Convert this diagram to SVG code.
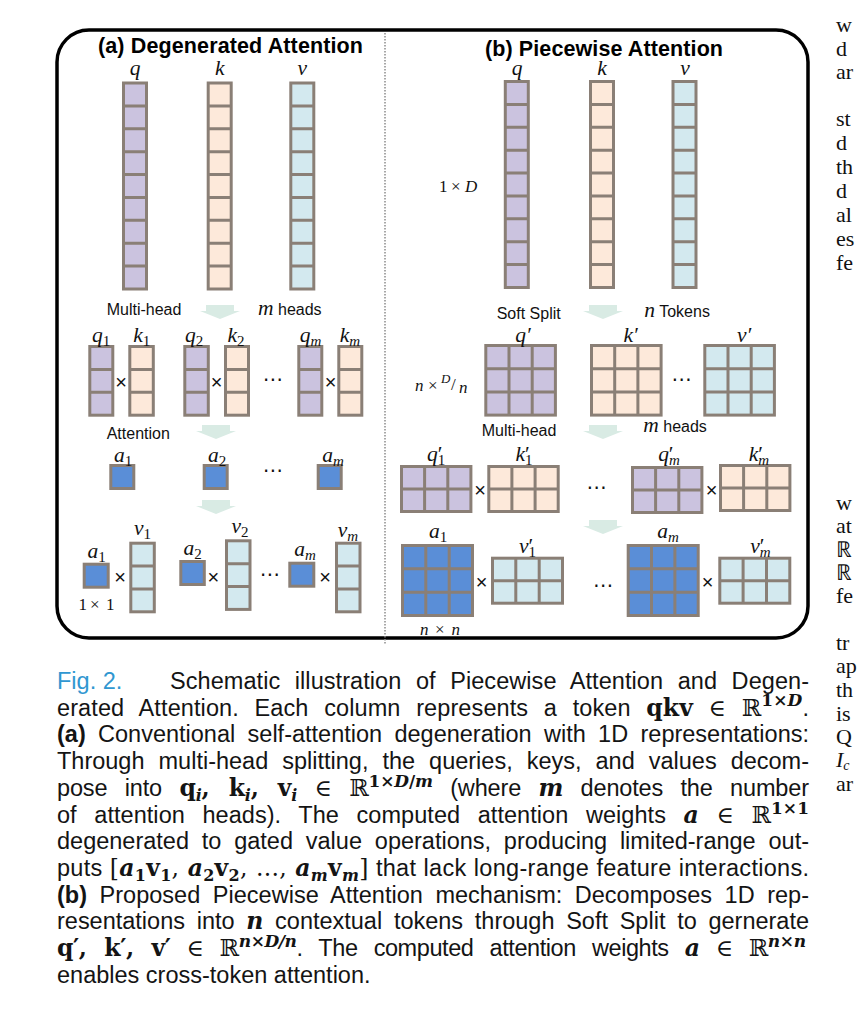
<svg xmlns="http://www.w3.org/2000/svg" width="861" height="1023" viewBox="0 0 861 1023">
<style>
.c{stroke:#8a7f76;stroke-width:3}
.d{stroke:#8a7f76;stroke-width:3;fill:none}
.q{fill:#cbc3df}
.k{fill:#fde9da}
.v{fill:#d3e9ef}
.a{fill:#5a8ed7}
.l{font-family:"Liberation Serif","Times New Roman",serif;font-style:italic;font-size:21.5px;text-anchor:middle;fill:#111}
.s{font-size:15px;font-style:normal}
.si{font-size:15px}
.sans{font-family:"Liberation Sans",Arial,sans-serif;font-size:16px;fill:#111}
.ti{font-family:"Liberation Sans",Arial,sans-serif;font-weight:bold;font-size:21.5px;fill:#000}
.x{font-family:"Liberation Sans",Arial,sans-serif;font-size:20px;text-anchor:middle;fill:#111}
.dots{font-family:"DejaVu Sans",sans-serif;font-size:20px;text-anchor:middle;fill:#111}
.tm{font-family:"Liberation Serif",serif;font-size:17px;fill:#111}
.it{font-style:italic}
.cap{font-family:"Liberation Sans",Arial,sans-serif;font-size:23.5px;fill:#141414}
.mb{font-family:"DejaVu Serif",serif;font-weight:bold}
.mi{font-family:"DejaVu Serif",serif;font-weight:bold;font-style:italic}
.mr{font-family:"DejaVu Serif",serif}
.rt{font-family:"Liberation Serif",serif;font-size:22px;fill:#111}
.arw{fill:#d9ebe4}
</style>
<defs>
<path id="arr" d="M-14,0 H14 V6 H20 L0,14 L-20,6 H-14 Z"/>
</defs>

<!-- frame and divider -->
<rect x="57" y="30" width="751" height="608" rx="32" fill="none" stroke="#000" stroke-width="3.5"/>
<line x1="385" y1="33" x2="385" y2="645" stroke="#8c8c8c" stroke-width="1.5" stroke-dasharray="1.5 1.5"/>

<text class="ti" x="98" y="53" textLength="265">(a) Degenerated Attention</text>
<text class="ti" x="485" y="56" textLength="238">(b) Piecewise Attention</text>

<!-- connectors (flow arrows) -->
<g id="connectors" class="arw">
<use href="#arr" x="220" y="305"/>
<use href="#arr" x="216" y="425"/>
<use href="#arr" x="216" y="500"/>
<use href="#arr" x="603" y="305"/>
<use href="#arr" x="603" y="425"/>
<use href="#arr" x="603" y="520"/>
</g>

<!-- ===== (a) left panel ===== -->
<g id="a-q">
<rect class="c q" x="123.5" y="83" width="23" height="206"/>
<path class="d" d="M123.5 105.9h23M123.5 128.8h23M123.5 151.7h23M123.5 174.6h23M123.5 197.4h23M123.5 220.3h23M123.5 243.2h23M123.5 266.1h23"/>
<text class="l" x="135" y="75">q</text>
</g>
<g id="a-k">
<rect class="c k" x="208.2" y="83" width="23" height="206"/>
<path class="d" d="M208.2 105.9h23M208.2 128.8h23M208.2 151.7h23M208.2 174.6h23M208.2 197.4h23M208.2 220.3h23M208.2 243.2h23M208.2 266.1h23"/>
<text class="l" x="219.7" y="75">k</text>
</g>
<g id="a-v">
<rect class="c v" x="290.8" y="83" width="23" height="206"/>
<path class="d" d="M290.8 105.9h23M290.8 128.8h23M290.8 151.7h23M290.8 174.6h23M290.8 197.4h23M290.8 220.3h23M290.8 243.2h23M290.8 266.1h23"/>
<text class="l" x="302.3" y="75">v</text>
</g>

<text class="sans" x="106.7" y="315">Multi-head</text>
<text class="sans" x="258" y="315"><tspan class="l" style="text-anchor:start">m</tspan> heads</text>

<g id="a-q1">
<rect class="c q" x="89.8" y="346.5" width="23" height="68.7"/>
<path class="d" d="M89.8 369.4h23M89.8 392.3h23"/>
<text class="l" x="101" y="341.7">q<tspan class="s" dy="4">1</tspan></text>
</g>
<g id="a-k1">
<rect class="c k" x="129.8" y="346.5" width="23.5" height="68.7"/>
<path class="d" d="M129.8 369.4h23.5M129.8 392.3h23.5"/>
<text class="l" x="141.7" y="341.7">k<tspan class="s" dy="4">1</tspan></text>
</g>
<g id="a-q2">
<rect class="c q" x="184.8" y="346.5" width="23.5" height="68.7"/>
<path class="d" d="M184.8 369.4h23.5M184.8 392.3h23.5"/>
<text class="l" x="194" y="341.7">q<tspan class="s" dy="4">2</tspan></text>
</g>
<g id="a-k2">
<rect class="c k" x="225.5" y="346.5" width="23" height="68.7"/>
<path class="d" d="M225.5 369.4h23M225.5 392.3h23"/>
<text class="l" x="236" y="341.7">k<tspan class="s" dy="4">2</tspan></text>
</g>
<g id="a-qm">
<rect class="c q" x="298.8" y="346.5" width="23" height="68.7"/>
<path class="d" d="M298.8 369.4h23M298.8 392.3h23"/>
<text class="l" x="310.5" y="341.7">q<tspan class="si" dy="4">m</tspan></text>
</g>
<g id="a-km">
<rect class="c k" x="338.8" y="346.5" width="23" height="68.7"/>
<path class="d" d="M338.8 369.4h23M338.8 392.3h23"/>
<text class="l" x="350" y="341.7">k<tspan class="si" dy="4">m</tspan></text>
</g>
<text class="x" x="121" y="389">×</text>
<text class="x" x="216.7" y="389">×</text>
<text class="x" x="330.7" y="389">×</text>
<text class="dots" x="273" y="386">⋯</text>

<text class="sans" x="106.7" y="439">Attention</text>

<g id="a-a1">
<rect class="c a" x="110.8" y="465.5" width="23" height="23"/>
<text class="l" x="123" y="461.7">a<tspan class="s" dy="4">1</tspan></text>
</g>
<g id="a-a2">
<rect class="c a" x="204.2" y="465.5" width="23" height="23"/>
<text class="l" x="217" y="461.7">a<tspan class="s" dy="4">2</tspan></text>
</g>
<g id="a-am">
<rect class="c a" x="318.2" y="465.5" width="23" height="23"/>
<text class="l" x="333" y="461.7">a<tspan class="si" dy="4">m</tspan></text>
</g>
<text class="dots" x="273" y="477">⋯</text>

<g id="a-av1">
<rect class="c a" x="84.2" y="564.2" width="24" height="23"/>
<text class="l" x="96.7" y="558">a<tspan class="s" dy="4">1</tspan></text>
<rect class="c v" x="130.8" y="543.2" width="23.5" height="68.6"/>
<path class="d" d="M130.8 566.1h23.5M130.8 589h23.5"/>
<text class="l" x="142.5" y="535">v<tspan class="s" dy="4">1</tspan></text>
<text class="x" x="120" y="584">×</text>
</g>
<g id="a-av2">
<rect class="c a" x="180.8" y="561.5" width="23.5" height="23"/>
<text class="l" x="192.5" y="555">a<tspan class="s" dy="4">2</tspan></text>
<rect class="c v" x="226.5" y="540.8" width="23.5" height="68.6"/>
<path class="d" d="M226.5 563.7h23.5M226.5 586.6h23.5"/>
<text class="l" x="240" y="533">v<tspan class="s" dy="4">2</tspan></text>
<text class="x" x="213.3" y="584">×</text>
</g>
<g id="a-avm">
<rect class="c a" x="289.8" y="563.2" width="24" height="23"/>
<text class="l" x="305" y="556">a<tspan class="si" dy="4">m</tspan></text>
<rect class="c v" x="336.5" y="543.2" width="23.5" height="68.6"/>
<path class="d" d="M336.5 566.1h23.5M336.5 589h23.5"/>
<text class="l" x="348" y="537">v<tspan class="si" dy="4">m</tspan></text>
<text class="x" x="325" y="584">×</text>
</g>
<text class="dots" x="270" y="581">⋯</text>
<text class="tm" y="610"><tspan x="78.5">1</tspan><tspan x="90">×</tspan><tspan x="106">1</tspan></text>

<!-- ===== (b) right panel ===== -->
<g id="b-q">
<rect class="c q" x="505.3" y="81.5" width="23" height="206"/>
<path class="d" d="M505.3 104.4h23M505.3 127.3h23M505.3 150.2h23M505.3 173.1h23M505.3 195.9h23M505.3 218.8h23M505.3 241.7h23M505.3 264.6h23"/>
<text class="l" x="517" y="75">q</text>
</g>
<g id="b-k">
<rect class="c k" x="590.5" y="81.5" width="23" height="206"/>
<path class="d" d="M590.5 104.4h23M590.5 127.3h23M590.5 150.2h23M590.5 173.1h23M590.5 195.9h23M590.5 218.8h23M590.5 241.7h23M590.5 264.6h23"/>
<text class="l" x="602" y="75">k</text>
</g>
<g id="b-v">
<rect class="c v" x="673" y="81.5" width="23" height="206"/>
<path class="d" d="M673 104.4h23M673 127.3h23M673 150.2h23M673 173.1h23M673 195.9h23M673 218.8h23M673 241.7h23M673 264.6h23"/>
<text class="l" x="685" y="75">v</text>
</g>
<text class="tm" y="191.5"><tspan x="439">1</tspan><tspan x="451">×</tspan><tspan x="465" class="it">D</tspan></text>

<text class="sans" x="496.7" y="319">Soft Split</text>
<text class="sans" x="644.3" y="317"><tspan class="l" style="text-anchor:start">n</tspan> Tokens</text>

<g id="b-qp">
<rect class="c q" x="485.8" y="345.5" width="69.6" height="69.6"/>
<path class="d" d="M509 345.5v69.6M532.2 345.5v69.6M485.8 368.7h69.6M485.8 391.9h69.6"/>
<text class="l" x="523" y="341.7">q′</text>
</g>
<g id="b-kp">
<rect class="c k" x="591.5" y="345.5" width="69.6" height="69.6"/>
<path class="d" d="M614.7 345.5v69.6M637.9 345.5v69.6M591.5 368.7h69.6M591.5 391.9h69.6"/>
<text class="l" x="630.5" y="341.7">k′</text>
</g>
<g id="b-vp">
<rect class="c v" x="704.8" y="345.5" width="69.6" height="69.6"/>
<path class="d" d="M728 345.5v69.6M751.2 345.5v69.6M704.8 368.7h69.6M704.8 391.9h69.6"/>
<text class="l" x="744" y="341.7">v′</text>
</g>
<text class="dots" x="681.7" y="386">⋯</text>
<text class="tm" y="391" font-style="italic"><tspan x="415">n</tspan><tspan x="428" font-style="normal">×</tspan><tspan x="441" y="383" font-size="13">D</tspan><tspan x="451" y="390" font-style="normal">/</tspan><tspan x="459" y="393">n</tspan></text>

<text class="sans" x="481.7" y="436">Multi-head</text>
<text class="sans" x="643.3" y="432"><tspan class="l" style="text-anchor:start">m</tspan> heads</text>

<g id="b-q1">
<rect class="c q" x="401.5" y="466.5" width="69.4" height="45"/>
<path class="d" d="M424.6 466.5v45M447.8 466.5v45M401.5 489h69.4"/>
<text class="l" x="436" y="461">q<tspan class="s" dy="4">1</tspan><tspan dx="-7.5" dy="-4" font-style="normal">′</tspan></text>
</g>
<g id="b-k1">
<rect class="c k" x="488.8" y="466.5" width="69.4" height="45"/>
<path class="d" d="M511.9 466.5v45M535.1 466.5v45M488.8 489h69.4"/>
<text class="l" x="524" y="461">k<tspan class="s" dy="4">1</tspan><tspan dx="-7.5" dy="-4" font-style="normal">′</tspan></text>
</g>
<text class="x" x="480" y="497">×</text>
<text class="dots" x="596.7" y="494">⋯</text>
<g id="b-qm">
<rect class="c q" x="632.5" y="467.5" width="69.4" height="45"/>
<path class="d" d="M655.6 467.5v45M678.8 467.5v45M632.5 490h69.4"/>
<text class="l" x="669" y="461">q<tspan class="si" dy="4">m</tspan><tspan dx="-11" dy="-4" font-style="normal">′</tspan></text>
</g>
<g id="b-km">
<rect class="c k" x="720.5" y="465.5" width="69.4" height="45"/>
<path class="d" d="M743.6 465.5v45M766.8 465.5v45M720.5 488h69.4"/>
<text class="l" x="759" y="461">k<tspan class="si" dy="4">m</tspan><tspan dx="-11" dy="-4" font-style="normal">′</tspan></text>
</g>
<text class="x" x="711.7" y="497">×</text>

<g id="b-a1">
<rect class="c a" x="402.5" y="545.5" width="70" height="70"/>
<path class="d" d="M425.8 545.5v70M449.2 545.5v70M402.5 568.8h70M402.5 592.2h70"/>
<text class="l" x="438" y="538">a<tspan class="s" dy="4">1</tspan></text>
</g>
<text class="x" x="481.7" y="589">×</text>
<g id="b-v1">
<rect class="c v" x="492.5" y="558.2" width="70" height="45"/>
<path class="d" d="M515.8 558.2v45M539.2 558.2v45M492.5 580.7h70"/>
<text class="l" x="527.5" y="553">v<tspan class="s" dy="4">1</tspan><tspan dx="-7.5" dy="-4" font-style="normal">′</tspan></text>
</g>
<text class="dots" x="603.3" y="592">⋯</text>
<g id="b-am">
<rect class="c a" x="628.2" y="545.5" width="70" height="70"/>
<path class="d" d="M651.5 545.5v70M674.9 545.5v70M628.2 568.8h70M628.2 592.2h70"/>
<text class="l" x="668" y="538">a<tspan class="si" dy="4">m</tspan></text>
</g>
<text class="x" x="707.7" y="589">×</text>
<g id="b-vm">
<rect class="c v" x="719.8" y="558.2" width="70" height="45"/>
<path class="d" d="M743.1 558.2v45M766.5 558.2v45M719.8 580.7h70"/>
<text class="l" x="760.5" y="553">v<tspan class="si" dy="4">m</tspan><tspan dx="-11" dy="-4" font-style="normal">′</tspan></text>
</g>
<text class="tm" y="635" font-style="italic"><tspan x="420">n</tspan><tspan x="435" font-style="normal">×</tspan><tspan x="451.5">n</tspan></text>

<!-- ===== caption ===== -->
<text class="cap" x="57" y="689" fill="#3097d1" style="fill:#3097d1">Fig. 2.</text>
<text class="cap" x="170" y="689" textLength="639" lengthAdjust="spacing" word-spacing="8">Schematic illustration of Piecewise Attention and Degen-</text>
<text class="cap" x="57" y="715.7" textLength="752" lengthAdjust="spacing" word-spacing="9">erated Attention. Each column represents a token <tspan class="mb">qkv</tspan> <tspan class="mr">∈</tspan> <tspan class="mr">ℝ</tspan><tspan class="mb" font-size="17" dy="-10">1×<tspan class="mi">D</tspan></tspan><tspan dy="10">.</tspan></text>
<text class="cap" x="57" y="742.4" textLength="752" lengthAdjust="spacing" word-spacing="5.8"><tspan font-weight="bold">(a)</tspan> Conventional self-attention degeneration with 1D representations:</text>
<text class="cap" x="57" y="769.1" textLength="752" lengthAdjust="spacing" word-spacing="7.5">Through multi-head splitting, the queries, keys, and values decom-</text>
<text class="cap" x="57" y="795.8" textLength="752" lengthAdjust="spacing" word-spacing="11">pose into <tspan class="mb">q<tspan class="mi" font-size="16" dy="5">i</tspan><tspan dy="-5">, k</tspan><tspan class="mi" font-size="16" dy="5">i</tspan><tspan dy="-5">, v</tspan><tspan class="mi" font-size="16" dy="5">i</tspan></tspan><tspan dy="-5"> </tspan><tspan class="mr">∈</tspan> <tspan class="mr">ℝ</tspan><tspan class="mb" font-size="17" dy="-9">1×<tspan class="mi">D</tspan>/<tspan class="mi">m</tspan></tspan><tspan dy="9"> (where </tspan><tspan class="mi">m</tspan> denotes the number</text>
<text class="cap" x="57" y="822.5" textLength="752" lengthAdjust="spacing" word-spacing="11">of attention heads). The computed attention weights <tspan class="mi">a</tspan> <tspan class="mr">∈</tspan> <tspan class="mr">ℝ</tspan><tspan class="mb" font-size="17" dy="-9">1×1</tspan></text>
<text class="cap" x="57" y="849.2" textLength="752" lengthAdjust="spacing" word-spacing="6.3">degenerated to gated value operations, producing limited-range out-</text>
<text class="cap" x="57" y="875.9" textLength="752" lengthAdjust="spacing" word-spacing="0.5">puts <tspan class="mr">[</tspan><tspan class="mi">a</tspan><tspan class="mb" font-size="16" dy="5">1</tspan><tspan class="mb" dy="-5">v</tspan><tspan class="mb" font-size="16" dy="5">1</tspan><tspan class="mr" dy="-5">, </tspan><tspan class="mi">a</tspan><tspan class="mb" font-size="16" dy="5">2</tspan><tspan class="mb" dy="-5">v</tspan><tspan class="mb" font-size="16" dy="5">2</tspan><tspan class="mr" dy="-5">, ..., </tspan><tspan class="mi">a</tspan><tspan class="mi" font-size="16" dy="5">m</tspan><tspan class="mb" dy="-5">v</tspan><tspan class="mi" font-size="16" dy="5">m</tspan><tspan class="mr" dy="-5">]</tspan> that lack long-range feature interactions.</text>
<text class="cap" x="57" y="902.6" textLength="752" lengthAdjust="spacing" word-spacing="5.9"><tspan font-weight="bold">(b)</tspan> Proposed Piecewise Attention mechanism: Decomposes 1D rep-</text>
<text class="cap" x="57" y="929.3" textLength="752" lengthAdjust="spacing" word-spacing="5.2">resentations into <tspan class="mi">n</tspan> contextual tokens through Soft Split to gernerate</text>
<text class="cap" x="57" y="956" textLength="749" lengthAdjust="spacing" word-spacing="10"><tspan class="mb">q′, k′, v′</tspan> <tspan class="mr">∈</tspan> <tspan class="mr">ℝ</tspan><tspan class="mi" font-size="17" dy="-9">n<tspan class="mb">×</tspan>D<tspan class="mb">/</tspan>n</tspan><tspan dy="9">. The computed attention weights </tspan><tspan class="mi">a</tspan> <tspan class="mr">∈</tspan> <tspan class="mr">ℝ</tspan><tspan class="mi" font-size="17" dy="-9">n<tspan class="mb">×</tspan>n</tspan></text>
<text class="cap" x="57" y="982.7">enables cross-token attention.</text>

<!-- ===== clipped neighbouring column ===== -->
<g class="rt">
<text x="836" y="32">w</text>
<text x="836" y="56">d</text>
<text x="836" y="79">ar</text>
<text x="836" y="126">st</text>
<text x="836" y="150">d</text>
<text x="836" y="174">th</text>
<text x="836" y="198">d</text>
<text x="836" y="222">al</text>
<text x="836" y="246">es</text>
<text x="836" y="270">fe</text>
<text x="836" y="510">w</text>
<text x="836" y="533">at</text>
<text x="836" y="557">ℝ</text>
<text x="836" y="580">ℝ</text>
<text x="836" y="603">fe</text>
<text x="836" y="650">tr</text>
<text x="836" y="673">ap</text>
<text x="836" y="697">th</text>
<text x="836" y="721">is</text>
<text x="836" y="744">Q</text>
<text x="836" y="767" font-style="italic">I<tspan font-size="14" dy="3">c</tspan></text>
<text x="836" y="791">ar</text>
</g>
</svg>
